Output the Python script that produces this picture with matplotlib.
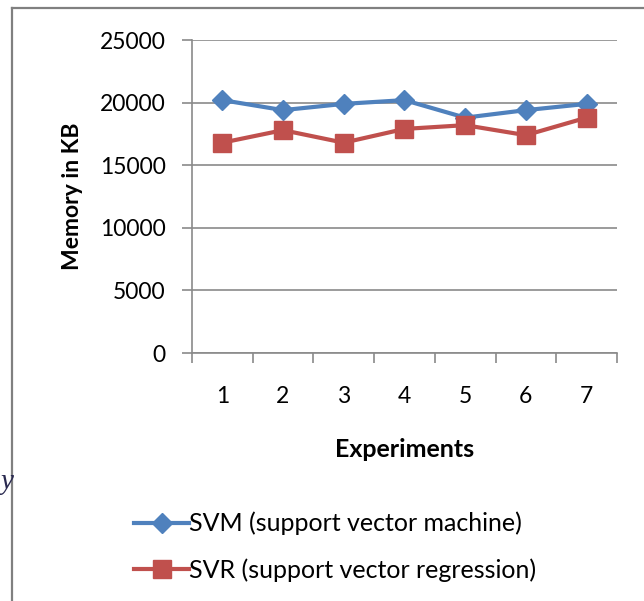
import matplotlib
matplotlib.use('Agg')
import matplotlib.pyplot as plt
from matplotlib.lines import Line2D

plt.rcParams['font.family'] = ['Lato', 'DejaVu Sans']

experiments = [1, 2, 3, 4, 5, 6, 7]
svm = [20200, 19400, 19900, 20200, 18800, 19400, 19900]
svr = [16800, 17800, 16800, 17900, 18200, 17400, 18800]
yticks = [0, 5000, 10000, 15000, 20000, 25000]

fig = plt.figure(figsize=(6.44, 6.01), dpi=100)
ax = fig.add_axes([0.298, 0.4126, 0.660, 0.5208])

gray = '#8a8a8a'
ax.plot(experiments, svm, color='#4F81BD', lw=3, marker='D', ms=10,
        label='SVM (support vector machine)')
ax.plot(experiments, svr, color='#C0504D', lw=3, marker='s', ms=13.5,
        label='SVR (support vector regression)')

ax.set_xlim(0.5, 7.5)
ax.set_ylim(0, 25000)
ax.set_yticks(yticks)
ax.set_yticklabels([str(v) for v in yticks])
ax.yaxis.grid(True, color=gray, lw=1.2)
ax.set_axisbelow(True)

# category ticks between the points, labels at the points
ax.set_xticks([x + 0.5 for x in [0] + experiments])
ax.set_xticklabels([])
ax.set_xticks(experiments, minor=True)
ax.set_xticklabels([str(e) for e in experiments], minor=True)
ax.tick_params(axis='x', which='major', direction='out', length=7, width=1.2, color=gray)
ax.tick_params(axis='x', which='minor', length=0, pad=24, labelsize=16.5)
ax.tick_params(axis='y', direction='out', length=7, width=1.2, color=gray,
               pad=12, labelsize=16.5)

for s in ['top', 'right']:
    ax.spines[s].set_visible(False)
ax.spines['left'].set_color(gray)
ax.spines['bottom'].set_color(gray)
ax.spines['left'].set_linewidth(1.2)
ax.spines['bottom'].set_linewidth(1.2)

ax.set_ylabel('Memory in KB', fontsize=16.5, fontweight='bold', labelpad=12)
ax.set_xlabel('Experiments', fontsize=18, fontweight='bold', labelpad=22)

fig.legend(loc='upper left', bbox_to_anchor=(0.193, 0.165), frameon=False,
           fontsize=18, handlelength=2.2, handletextpad=0.0,
           labelspacing=0.9, borderaxespad=0)

# page frame and stray text from the source document
fig.add_artist(Line2D([0.019, 1.0], [0.986, 0.986], color='#808080', lw=1.6,
                      transform=fig.transFigure))
fig.add_artist(Line2D([0.019, 0.019], [0.0, 0.986], color='#808080', lw=1.6,
                      transform=fig.transFigure))
fig.text(0.0, 0.186, 'y', fontsize=21, family='Liberation Serif', style='italic',
         color='#2a2a50', ha='left')

fig.savefig('out.png', dpi=100)
